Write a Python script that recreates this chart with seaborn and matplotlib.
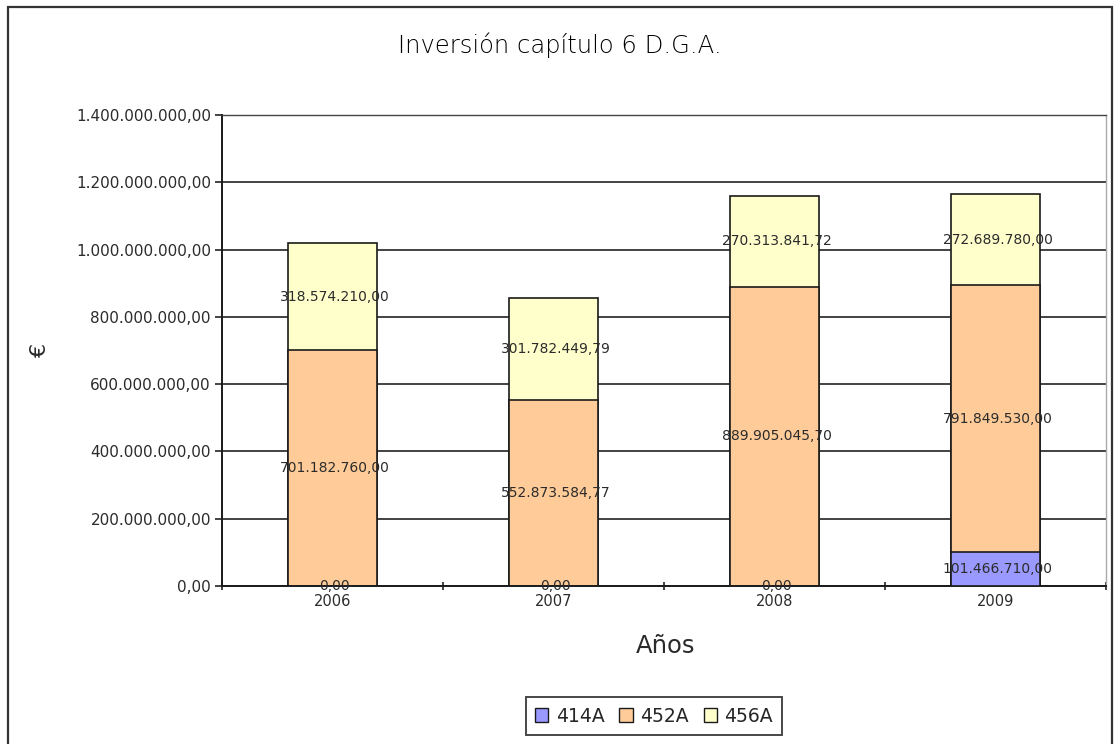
#!/usr/bin/env python3
"""
Stacked column chart: Inversión capítulo 6 D.G.A. (2006-2009).
"""
import numpy as np
import pandas as pd
import matplotlib
matplotlib.use('Agg')
import matplotlib.pyplot as plt
from matplotlib.patches import Rectangle, Patch
import seaborn as sns

# Data
years = ['2006', '2007', '2008', '2009']
series = ['414A', '452A', '456A']
v_414a = [0.0, 0.0, 0.0, 101466710.00]
v_452a = [701182760.00, 552873584.77, 889905045.70, 791849530.00]
v_456a = [318574210.00, 301782449.79, 270313841.72, 272689780.00]
colors = {'414A': '#9999ff', '452A': '#ffcc99', '456A': '#ffffcc'}
y_ticks = np.arange(0, 1400000001, 200000000)


def es_fmt(v):
    # 1234567,8 -> 1.234.567,80
    s = f'{v:,.2f}'
    return s.replace(',', 'X').replace('.', ',').replace('X', '.')


df = pd.DataFrame({'year': years, '414A': v_414a, '452A': v_452a, '456A': v_456a})
df['c1'] = df['414A']
df['c2'] = df['c1'] + df['452A']
df['c3'] = df['c2'] + df['456A']

sns.set_style('white')
plt.rcParams['font.family'] = ['DejaVu Sans']

fig = plt.figure(figsize=(11.16, 7.44), dpi=100)
W, H = 1116, 744
ax = fig.add_axes([222 / W, (H - 586) / H, (1106 - 222) / W, (586 - 115) / H])

# stacked bars by drawing the cumulative totals from the top down
for col, name in [('c3', '456A'), ('c2', '452A'), ('c1', '414A')]:
    sns.barplot(data=df, x='year', y=col, order=years, color=colors[name],
                width=0.4, edgecolor='#1a1a1a', linewidth=1.2,
                saturation=1, ax=ax, zorder=3)

# data labels in the middle of each segment
for i in range(len(years)):
    bottom = 0.0
    for name in series:
        v = df.loc[i, name]
        ax.text(i + 0.01, bottom + v / 2, es_fmt(v), ha='center', va='center',
                fontsize=10, color='#2b2b2b', zorder=5)
        bottom += v

ax.set_ylim(0, 1400000000)
ax.set_xlim(-0.5, len(years) - 0.5)
ax.set_yticks(y_ticks)
ax.set_yticklabels([es_fmt(t) for t in y_ticks], fontsize=11, color='#2b2b2b')
ax.tick_params(axis='y', direction='out', length=5, width=1.2, color='#222222', pad=3, left=True)
ax.tick_params(axis='x', which='major', length=0, labelsize=10.5, labelcolor='#2b2b2b', pad=6)
ax.set_xticks(np.arange(-0.5, len(years)), minor=True)
ax.tick_params(axis='x', which='minor', direction='inout', length=6, width=1.2, color='#222222', bottom=True)

ax.grid(axis='y', color='#222222', linewidth=1.2, zorder=0)
ax.set_axisbelow(True)
for side in ['left', 'bottom']:
    ax.spines[side].set_color('#1a1a1a')
    ax.spines[side].set_linewidth(1.4)
ax.spines['top'].set_color('#444444')
ax.spines['top'].set_linewidth(1.0)
ax.spines['right'].set_color('#aaaaaa')
ax.spines['right'].set_linewidth(1.0)

ax.set_xlabel('')
ax.set_ylabel('')
fig.text(560 / W, 1 - 45 / H, 'Inversión capítulo 6 D.G.A.', ha='center', va='center',
         fontsize=17.5, fontweight='light', color='#000000')
fig.text(666 / W, 1 - 646 / H, 'Años', ha='center', va='center', fontsize=17.5, color='#2b2b2b')
fig.text(40 / W, 1 - 350 / H, '€', ha='center', va='center', fontsize=16, rotation=90, color='#2b2b2b')

handles = [Patch(facecolor=colors[s], edgecolor='#1a1a1a', linewidth=1.0) for s in series]
leg = fig.legend(handles, series, loc='center', bbox_to_anchor=(654 / W, 1 - 716 / H),
                 ncol=3, fontsize=13.5, frameon=True, fancybox=False, handlelength=0.7,
                 handleheight=0.7, handletextpad=0.4, columnspacing=0.8, borderpad=0.5)
leg.get_frame().set_edgecolor('#1a1a1a')
leg.get_frame().set_linewidth(1.4)

# outer chart frame
fig.patches.append(Rectangle((8 / W, -0.05), (1112 - 8) / W, 1.05 - 7 / H,
                             transform=fig.transFigure, fill=False,
                             edgecolor='#333333', linewidth=1.6))

fig.savefig('out.png', dpi=100)
plt.close('all')
